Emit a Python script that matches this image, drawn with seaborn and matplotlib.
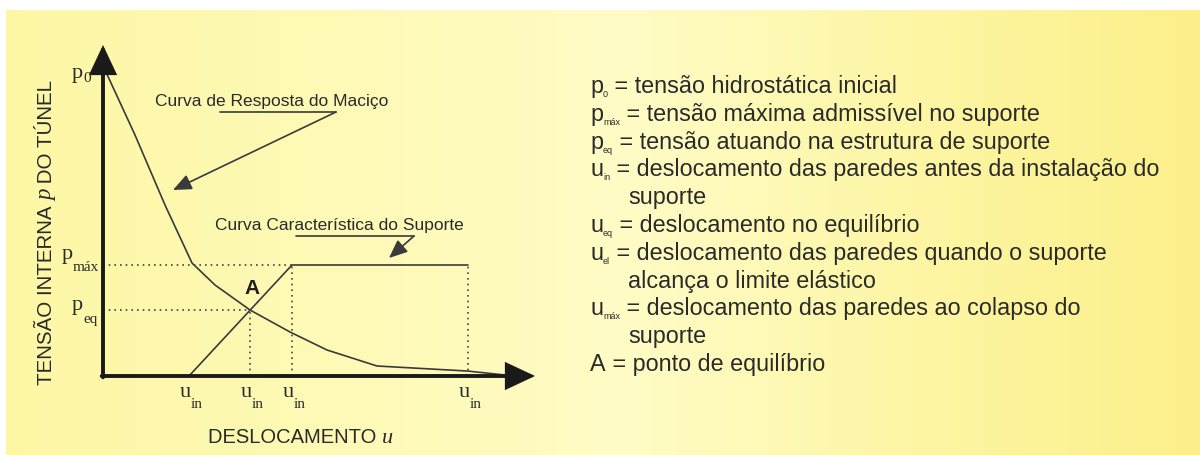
import numpy as np
import matplotlib
matplotlib.use("Agg")
import matplotlib.pyplot as plt
import seaborn as sns
from matplotlib.transforms import offset_copy, blended_transform_factory

# ---- values (displacement u, internal pressure p) ----
u_rock = [2, 32, 62, 89, 112, 147, 187, 224, 274, 364, 402]
p_rock = [306, 241, 171, 113, 91, 66, 44, 26, 10, 5, 1]

u_in, u_eq, u_el, u_max = 86, 147, 189, 365
p0, p_max, p_eq = 306, 111, 66

u_support = [u_in, u_el, u_max]
p_support = [0, p_max, p_max]

u_tick_values = [u_in, u_eq, u_el, u_max]
u_tick_subs = ["in", "in", "in", "in"]

legend_symbols = ["p", "p", "p", "u", "u", "u", "u", "A"]
legend_subs = ["0", "máx", "eq", "in", "eq", "el", "máx", ""]
legend_texts = [
    " = tensão hidrostática inicial",
    " = tensão máxima admissível no suporte",
    " = tensão atuando na estrutura de suporte",
    " = deslocamento das paredes antes da instalação do",
    " = deslocamento no equilíbrio",
    " = deslocamento das paredes quando o suporte",
    " = deslocamento das paredes ao colapso do",
    " = ponto de equilíbrio",
]
legend_wrap = ["", "", "", "suporte", "", "alcança o limite elástico", "suporte", ""]

W, H = 1200, 455
INK = "#2a2a2a"
LINE = "#3a3a3a"

sns.set_theme(style="white")
plt.rcParams["font.family"] = ["Liberation Sans", "DejaVu Sans"]

fig = plt.figure(figsize=(W / 100, H / 100), dpi=100)
renderer = fig.canvas.get_renderer()

# ---- yellow gradient panel ----
bg = fig.add_axes([0, 0, 1, 1])
bg.set_axis_off()
xs = np.linspace(0, 1, W)
stop_pos = [0.0, 0.45, 0.52, 0.80, 1.0]
stop_col = np.array([[253, 247, 165], [255, 251, 192], [255, 252, 198],
                     [253, 245, 160], [252, 239, 138]]) / 255.0
row = np.stack([np.interp(xs, stop_pos, stop_col[:, k]) for k in range(3)], axis=1)
img = np.repeat(row[None, :, :], H, axis=0)
img[:10, :, :] = 1.0
img[:, :6, :] = 1.0
bg.imshow(img, extent=[0, 1, 0, 1], aspect="auto", interpolation="bilinear")
bg.set_xlim(0, 1)
bg.set_ylim(0, 1)

# ---- diagram axes ----
ax = fig.add_axes([103 / W, (H - 376) / H, 432 / W, 331 / H])
ax.set_xlim(0, 432)
ax.set_ylim(0, 331)
ax.set_axis_off()
ax.patch.set_alpha(0)

sns.lineplot(x=u_rock, y=p_rock, ax=ax, color=LINE, linewidth=1.2,
             sort=False, estimator=None)
sns.lineplot(x=u_support, y=p_support, ax=ax, color=LINE, linewidth=1.2,
             sort=False, estimator=None)

dot = dict(color="#444444", linewidth=1.2, linestyle=(0, (1, 2.4)))
ax.hlines([p_max, p_eq], 0, [u_el, u_eq], **dot)
ax.vlines([u_eq, u_el, u_max], 0, [p_eq, p_max, p_max], **dot)

axis_arrow = dict(arrowstyle="-|>,head_length=0.85,head_width=0.4", lw=2.8,
                  color="#1a1a1a", mutation_scale=20, shrinkA=0, shrinkB=0,
                  joinstyle="miter")
ax.annotate("", xy=(1.0, 0), xytext=(-0.003, 0), xycoords="axes fraction",
            textcoords="axes fraction", arrowprops=axis_arrow, annotation_clip=False)
ax.annotate("", xy=(0, 1.0), xytext=(0, -0.004), xycoords="axes fraction",
            textcoords="axes fraction", arrowprops=axis_arrow, annotation_clip=False)


def chain(x, y, pieces, transform, start=0.0, first_right=False, rotation=0):
    """Draw text pieces one after another along the baseline."""
    texts, widths = [], []
    for txt, kw, shift in pieces:
        t = fig.text(x, y, txt, transform=transform, ha="left", va="baseline",
                     rotation=rotation, rotation_mode="anchor", color=INK, **kw)
        bb = t.get_window_extent(renderer)
        widths.append(bb.width if rotation == 0 else bb.height)
        texts.append((t, shift))
    off = start - (widths[0] if first_right else 0.0)
    for (t, shift), w in zip(texts, widths):
        if rotation == 0:
            t.set_transform(offset_copy(transform, fig=fig, x=off, y=shift, units="dots"))
        else:
            t.set_transform(offset_copy(transform, fig=fig, x=-shift, y=off, units="dots"))
        off += w
    return off


serif = dict(family=["Liberation Serif", "DejaVu Serif"])
big = dict(fontsize=16, **serif)
small = dict(fontsize=11, **serif)

# pressure labels on the vertical axis
ytr = blended_transform_factory(ax.transAxes, ax.transData)
chain(0, p0, [("p", big, -8), ("0", small, -12)], ytr, start=-31)
chain(0, p_max, [("p", big, 6), ("máx", small, -6)], ytr, start=-41)
chain(0, p_eq, [("p", big, 0), ("eq", small, -13)], ytr, start=-31)

# displacement labels under the horizontal axis
xtr = blended_transform_factory(ax.transData, ax.transAxes)
for u, s in zip(u_tick_values, u_tick_subs):
    chain(u, 0, [("u", big, -21), (s, small, -32)], xtr, start=2, first_right=True)

# axis titles
chain(208 / W, (H - 443) / H,
      [("DESLOCAMENTO ", dict(fontsize=14.5), 0),
       ("u", dict(fontsize=16, style="italic", **serif), 0)],
      fig.transFigure)
chain(52 / W, (H - 385) / H,
      [("TENSÃO INTERNA ", dict(fontsize=14.8), 0),
       ("p", dict(fontsize=16.5, style="italic", **serif), 0),
       (" DO TÚNEL", dict(fontsize=14.8), 0)],
      fig.transFigure, rotation=90)

# curve annotations
ann = dict(fontsize=12.5, color=INK)
ax.text(52, 270, "Curva de Resposta do Maciço", ha="left", va="baseline", **ann)
ax.plot([117, 233], [264, 264], color=LINE, lw=1.2)
ax.annotate("", xy=(70, 186), xytext=(233, 264),
            arrowprops=dict(arrowstyle="-|>,head_length=0.7,head_width=0.3", lw=1.2,
                            color=LINE, mutation_scale=16, shrinkA=0, shrinkB=0))
ax.text(112, 146, "Curva Característica do Suporte", ha="left", va="baseline", **ann)
ax.plot([193, 311], [140, 140], color=LINE, lw=1.2)
ax.annotate("", xy=(286, 118), xytext=(311, 140),
            arrowprops=dict(arrowstyle="-|>,head_length=0.7,head_width=0.3", lw=1.2,
                            color=LINE, mutation_scale=16, shrinkA=0, shrinkB=0))

ax.text(u_eq + 2, p_eq + 22, "A", ha="center", va="center", fontsize=15,
        fontweight="bold", color="#1e1e1e")

# explanation list
leg_main = dict(fontsize=16.8)
leg_sub = dict(fontsize=6.5)
line_h = 27.8
row_i = 0
for sym, sub, txt, wrap in zip(legend_symbols, legend_subs, legend_texts, legend_wrap):
    base = 93 + line_h * row_i
    pieces = [(sym, leg_main, 0)]
    if sub:
        pieces.append((sub, leg_sub, -4))
    pieces.append((txt, leg_main, 0))
    chain(590 / W, (H - base) / H, pieces, fig.transFigure)
    row_i += 1
    if wrap:
        base = 93 + line_h * row_i
        chain(628 / W, (H - base) / H, [(wrap, leg_main, 0)], fig.transFigure)
        row_i += 1

fig.savefig("out.png", dpi=100)
